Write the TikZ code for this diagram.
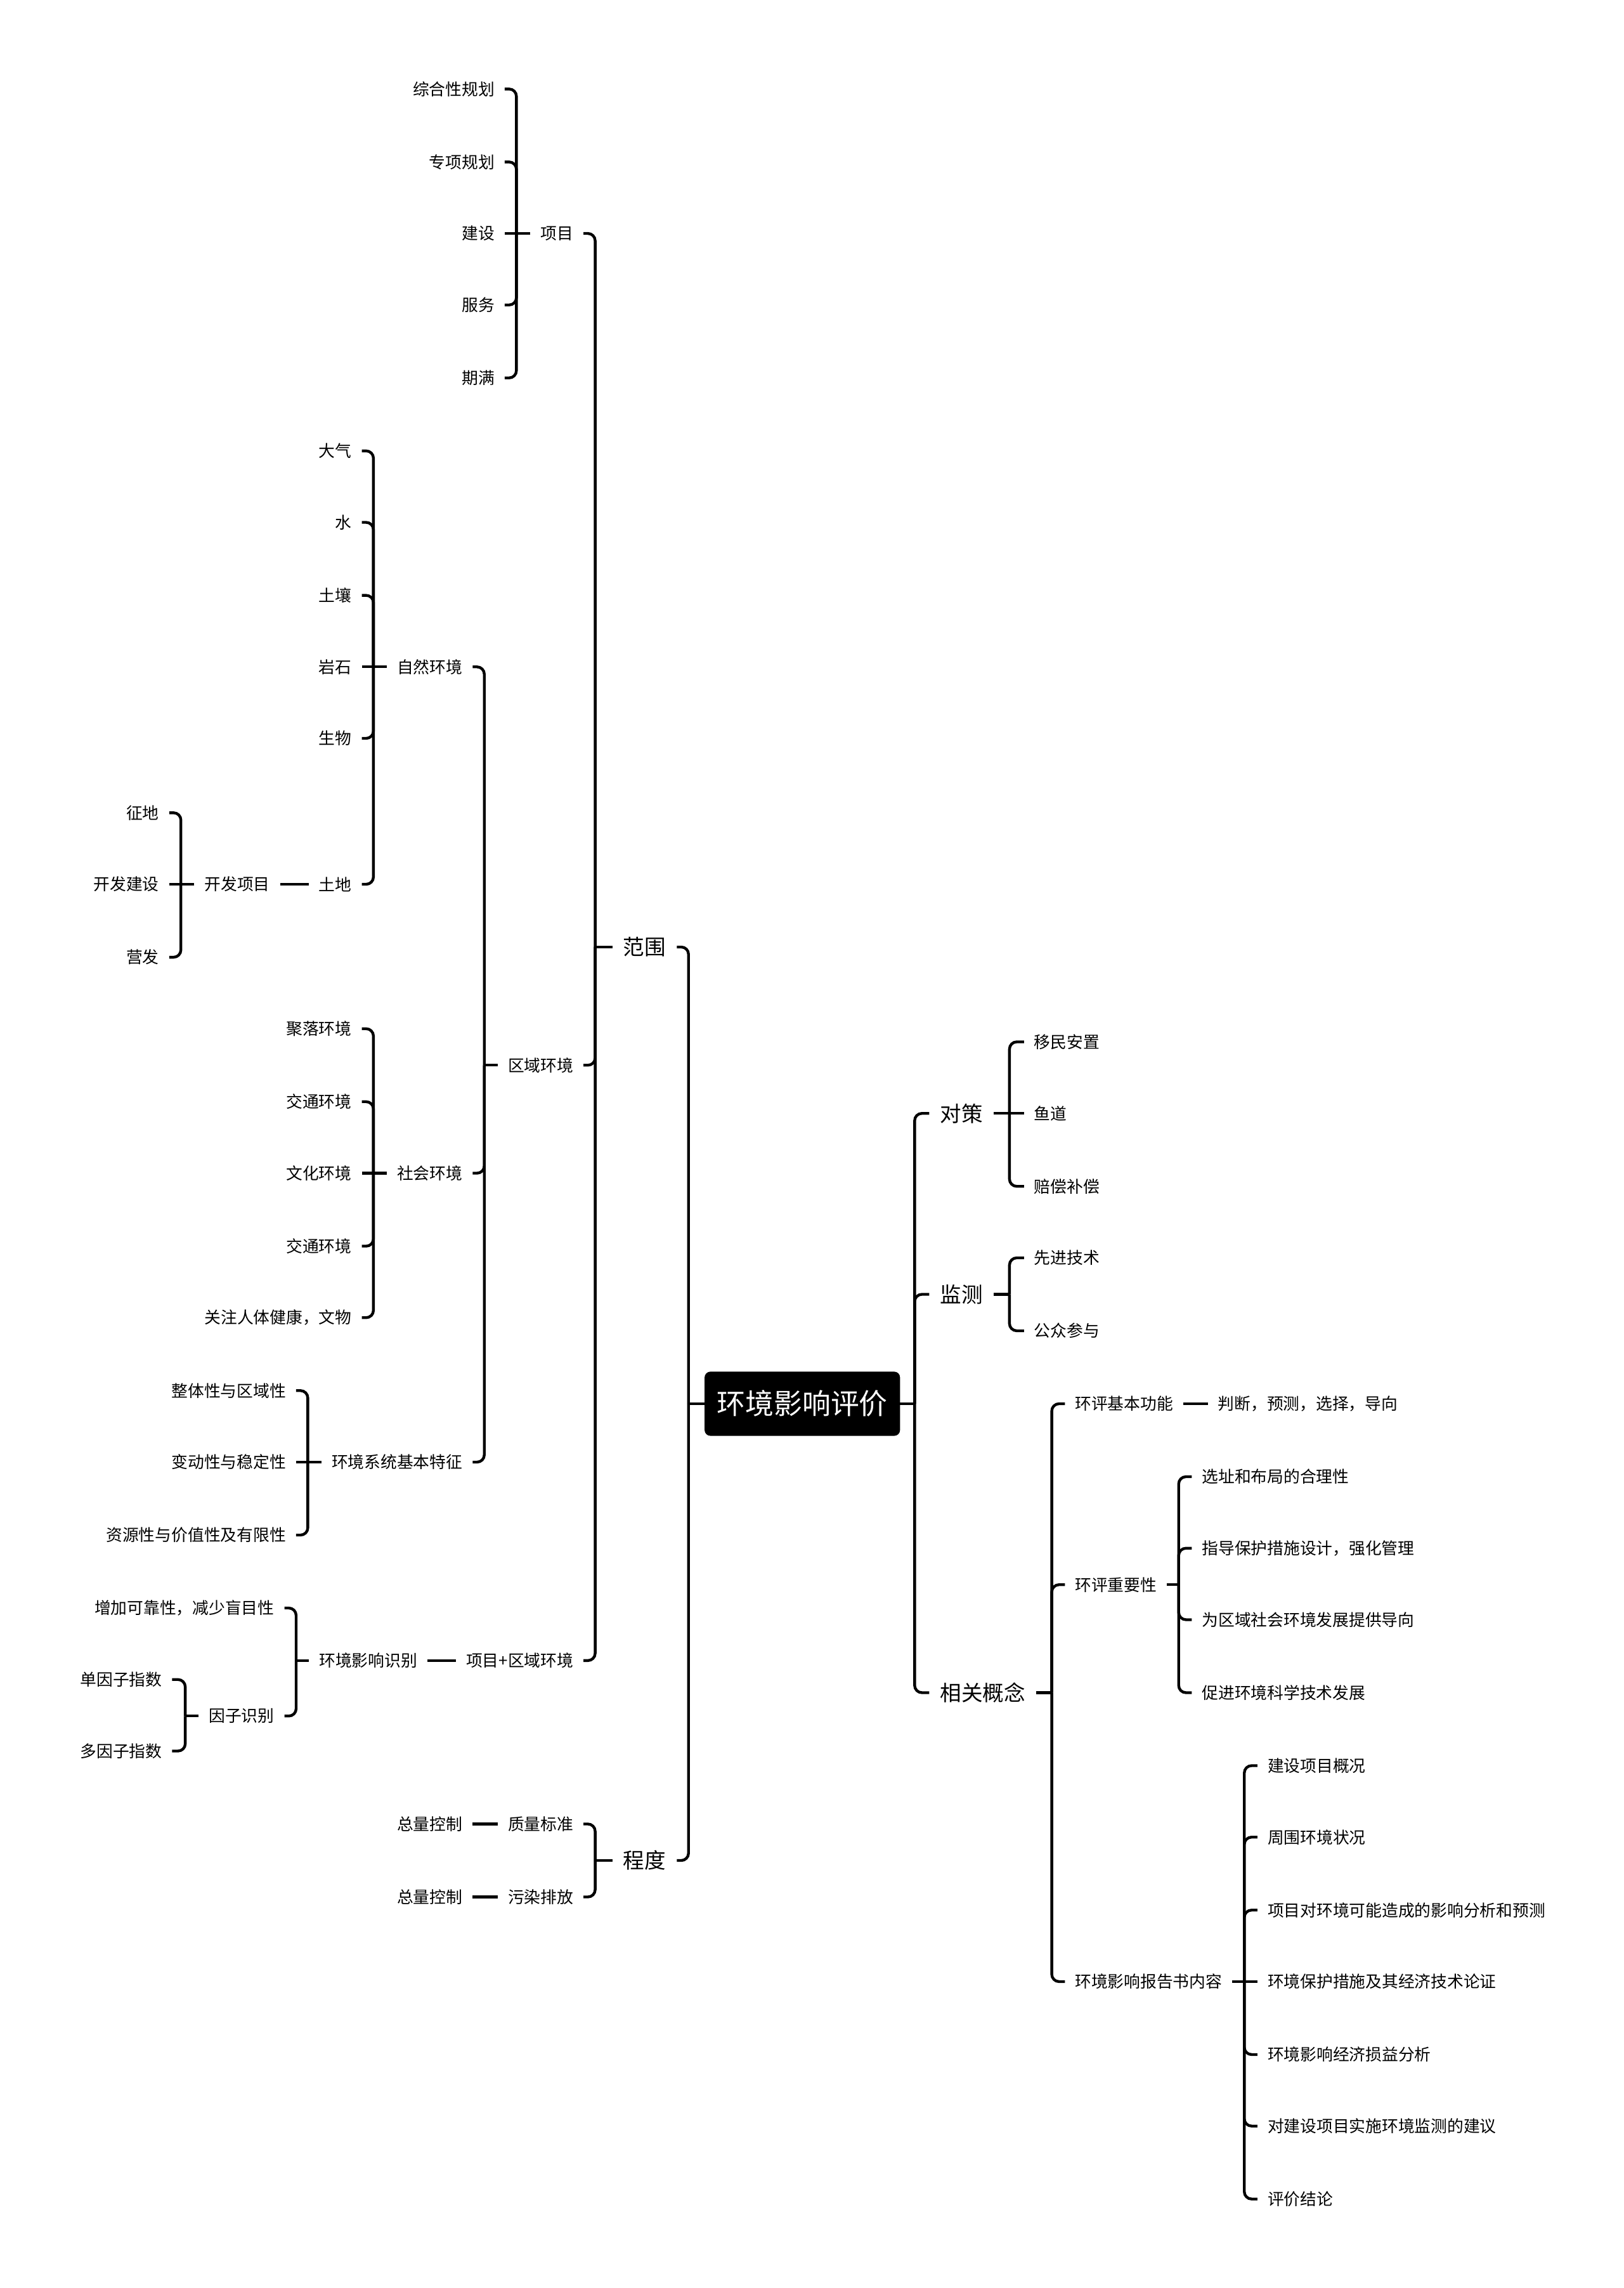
\documentclass[tikz,border=0pt]{standalone}
\usepackage{fontspec}
\setmainfont{Noto Sans CJK SC}
\begin{document}
\begin{tikzpicture}[x=1pt,y=-1pt,
  every node/.style={inner ysep=2pt, outer sep=0pt, text=black},
  lf/.style={font=\fontsize{11.2}{13}\selectfont, inner xsep=7pt},
  lfL/.style={lf, anchor=east},
  lfR/.style={lf, anchor=west},
  mn/.style={font=\fontsize{14.6}{17}\selectfont, inner xsep=7.5pt},
  mnL/.style={mn, anchor=east},
  mnR/.style={mn, anchor=west},
  ln/.style={line width=1.9pt, black},
  br/.style={ln, rounded corners=5pt},
  rootbox/.style={fill=black, rounded corners=4pt, text=white, font=\fontsize{19.5}{22}\selectfont, minimum width=134pt, minimum height=44pt, inner sep=0pt}]
\fill[white] (0,0) rectangle (1113,1568);
\useasboundingbox (0,0) rectangle (1113,1568);

% root
\node[rootbox] (root) at (550,962) {环境影响评价};

% ---------------- left side ----------------
\node[mnL] (fw) at (464,649) {范围};
\node[mnL] (cd) at (464,1275) {程度};
\coordinate (jL) at (472,962);
\draw[ln] (root.west) -- (jL);
\draw[br] (jL) |- (fw.east);
\draw[br] (jL) |- (cd.east);

% 范围
\node[lfL] (xm) at (400,160) {项目};
\node[lfL] (qy) at (400,730) {区域环境};
\node[lfL] (xq) at (400,1138) {项目+区域环境};
\coordinate (jfw) at (408,649);
\draw[ln] (fw.west) -- (jfw);
\draw[br] (jfw) |- (xm.east);
\draw[br] (jfw) |- (qy.east);
\draw[br] (jfw) |- (xq.east);

% 项目
\node[lfL] (xm1) at (346,61) {综合性规划};
\node[lfL] (xm2) at (346,111) {专项规划};
\node[lfL] (xm3) at (346,160) {建设};
\node[lfL] (xm4) at (346,209) {服务};
\node[lfL] (xm5) at (346,259) {期满};
\coordinate (jxm) at (354,160);
\draw[ln] (xm.west) -- (jxm);
\draw[br] (jxm) |- (xm1.east);
\draw[br] (jxm) |- (xm2.east);
\draw[ln] (jxm) -- (xm3.east);
\draw[br] (jxm) |- (xm4.east);
\draw[br] (jxm) |- (xm5.east);

% 区域环境
\node[lfL] (zr) at (324,457) {自然环境};
\node[lfL] (sh) at (324,804) {社会环境};
\node[lfL] (tz) at (324,1002) {环境系统基本特征};
\coordinate (jqy) at (332,730);
\draw[ln] (qy.west) -- (jqy);
\draw[br] (jqy) |- (zr.east);
\draw[br] (jqy) |- (sh.east);
\draw[br] (jqy) |- (tz.east);

% 自然环境
\node[lfL] (zr1) at (248,309) {大气};
\node[lfL] (zr2) at (248,358) {水};
\node[lfL] (zr3) at (248,408) {土壤};
\node[lfL] (zr4) at (248,457) {岩石};
\node[lfL] (zr5) at (248,506) {生物};
\node[lfL] (zr6) at (248,606) {土地};
\coordinate (jzr) at (256,457);
\draw[ln] (zr.west) -- (jzr);
\draw[br] (jzr) |- (zr1.east);
\draw[br] (jzr) |- (zr2.east);
\draw[br] (jzr) |- (zr3.east);
\draw[ln] (jzr) -- (zr4.east);
\draw[br] (jzr) |- (zr5.east);
\draw[br] (jzr) |- (zr6.east);

% 土地 - 开发项目
\node[lfL] (kf) at (192,606) {开发项目};
\draw[ln] (zr6.west) -- (kf.east);
\node[lfL] (kf1) at (116,557) {征地};
\node[lfL] (kf2) at (116,606) {开发建设};
\node[lfL] (kf3) at (116,656) {营发};
\coordinate (jkf) at (124,606);
\draw[ln] (kf.west) -- (jkf);
\draw[br] (jkf) |- (kf1.east);
\draw[ln] (jkf) -- (kf2.east);
\draw[br] (jkf) |- (kf3.east);

% 社会环境
\node[lfL] (sh1) at (248,705) {聚落环境};
\node[lfL] (sh2) at (248,755) {交通环境};
\node[lfL] (sh3) at (248,804) {文化环境};
\node[lfL] (sh4) at (248,854) {交通环境};
\node[lfL] (sh5) at (248,903) {关注人体健康，文物};
\coordinate (jsh) at (256,804);
\draw[ln] (sh.west) -- (jsh);
\draw[br] (jsh) |- (sh1.east);
\draw[br] (jsh) |- (sh2.east);
\draw[ln] (jsh) -- (sh3.east);
\draw[br] (jsh) |- (sh4.east);
\draw[br] (jsh) |- (sh5.east);

% 环境系统基本特征
\node[lfL] (tz1) at (203,953) {整体性与区域性};
\node[lfL] (tz2) at (203,1002) {变动性与稳定性};
\node[lfL] (tz3) at (203,1052) {资源性与价值性及有限性};
\coordinate (jtz) at (211,1002);
\draw[ln] (tz.west) -- (jtz);
\draw[br] (jtz) |- (tz1.east);
\draw[ln] (jtz) -- (tz2.east);
\draw[br] (jtz) |- (tz3.east);

% 项目+区域环境
\node[lfL] (sb) at (293,1138) {环境影响识别};
\draw[ln] (xq.west) -- (sb.east);
\node[lfL] (sb1) at (195,1102) {增加可靠性，减少盲目性};
\node[lfL] (sb2) at (195,1176) {因子识别};
\coordinate (jsb) at (203,1138);
\draw[ln] (sb.west) -- (jsb);
\draw[br] (jsb) |- (sb1.east);
\draw[br] (jsb) |- (sb2.east);
\node[lfL] (yz1) at (118,1151) {单因子指数};
\node[lfL] (yz2) at (118,1200) {多因子指数};
\coordinate (jyz) at (127,1176);
\draw[ln] (sb2.west) -- (jyz);
\draw[br] (jyz) |- (yz1.east);
\draw[br] (jyz) |- (yz2.east);

% 程度
\node[lfL] (cd1) at (400,1250) {质量标准};
\node[lfL] (cd2) at (400,1300) {污染排放};
\coordinate (jcd) at (408,1275);
\draw[ln] (cd.west) -- (jcd);
\draw[br] (jcd) |- (cd1.east);
\draw[br] (jcd) |- (cd2.east);
\node[lfL] (zl1) at (324,1250) {总量控制};
\node[lfL] (zl2) at (324,1300) {总量控制};
\draw[ln] (cd1.west) -- (zl1.east);
\draw[ln] (cd2.west) -- (zl2.east);

% ---------------- right side ----------------
\node[mnR] (dc) at (637,763) {对策};
\node[mnR] (jc) at (637,887) {监测};
\node[mnR] (xg) at (637,1160) {相关概念};
\coordinate (jR) at (627,962);
\draw[ln] (root.east) -- (jR);
\draw[br] (jR) |- (dc.west);
\draw[br] (jR) |- (jc.west);
\draw[br] (jR) |- (xg.west);

% 对策
\node[lfR] (dc1) at (702,714) {移民安置};
\node[lfR] (dc2) at (702,763) {鱼道};
\node[lfR] (dc3) at (702,813) {赔偿补偿};
\coordinate (jdc) at (692,763);
\draw[ln] (dc.east) -- (jdc);
\draw[br] (jdc) |- (dc1.west);
\draw[ln] (jdc) -- (dc2.west);
\draw[br] (jdc) |- (dc3.west);

% 监测
\node[lfR] (jc1) at (702,862) {先进技术};
\node[lfR] (jc2) at (702,912) {公众参与};
\coordinate (jjc) at (692,887);
\draw[ln] (jc.east) -- (jjc);
\draw[br] (jjc) |- (jc1.west);
\draw[br] (jjc) |- (jc2.west);

% 相关概念
\node[lfR] (gn) at (730,962) {环评基本功能};
\node[lfR] (zy) at (730,1086) {环评重要性};
\node[lfR] (bg) at (730,1358) {环境影响报告书内容};
\coordinate (jxg) at (721,1160);
\draw[ln] (xg.east) -- (jxg);
\draw[br] (jxg) |- (gn.west);
\draw[br] (jxg) |- (zy.west);
\draw[br] (jxg) |- (bg.west);

\node[lfR] (gn1) at (828,962) {判断，预测，选择，导向};
\draw[ln] (gn.east) -- (gn1.west);

\node[lfR] (zy1) at (817,1012) {选址和布局的合理性};
\node[lfR] (zy2) at (817,1061) {指导保护措施设计，强化管理};
\node[lfR] (zy3) at (817,1110) {为区域社会环境发展提供导向};
\node[lfR] (zy4) at (817,1160) {促进环境科学技术发展};
\coordinate (jzy) at (808,1086);
\draw[ln] (zy.east) -- (jzy);
\draw[br] (jzy) |- (zy1.west);
\draw[br] (jzy) |- (zy2.west);
\draw[br] (jzy) |- (zy3.west);
\draw[br] (jzy) |- (zy4.west);

\node[lfR] (bg1) at (862,1210) {建设项目概况};
\node[lfR] (bg2) at (862,1259) {周围环境状况};
\node[lfR] (bg3) at (862,1309) {项目对环境可能造成的影响分析和预测};
\node[lfR] (bg4) at (862,1358) {环境保护措施及其经济技术论证};
\node[lfR] (bg5) at (862,1408) {环境影响经济损益分析};
\node[lfR] (bg6) at (862,1457) {对建设项目实施环境监测的建议};
\node[lfR] (bg7) at (862,1507) {评价结论};
\coordinate (jbg) at (853,1358);
\draw[ln] (bg.east) -- (jbg);
\draw[br] (jbg) |- (bg1.west);
\draw[br] (jbg) |- (bg2.west);
\draw[br] (jbg) |- (bg3.west);
\draw[ln] (jbg) -- (bg4.west);
\draw[br] (jbg) |- (bg5.west);
\draw[br] (jbg) |- (bg6.west);
\draw[br] (jbg) |- (bg7.west);
\end{tikzpicture}
\end{document}
